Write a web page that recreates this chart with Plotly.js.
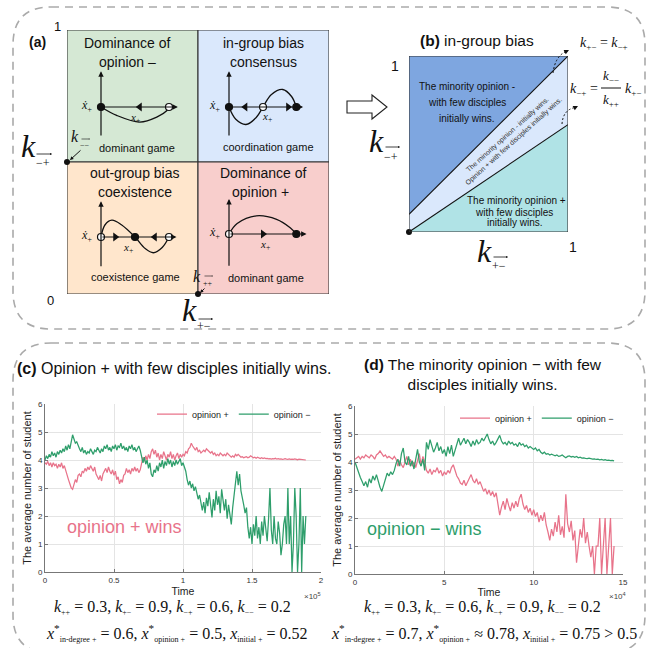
<!DOCTYPE html>
<html><head><meta charset="utf-8">
<script src="https://cdn.plot.ly/plotly-3.0.1.min.js"></script>
<style>html,body{margin:0;padding:0;background:#fff}#chart{width:662px;height:648px}</style>
</head><body><div id="chart"></div>
<script>
// ================= DATA =================
// Panel (c): average number of students, sampled every 1000 time steps (0 .. 1.89e5)
const cStep = 1000;
const cPlus = [
3.9,3.85,3.95,3.8,3.9,3.75,3.9,3.8,3.85,3.7,
3.85,3.75,3.9,3.7,3.8,3.6,3.5,3.3,3.15,3.0,
2.95,3.15,3.3,3.2,3.45,3.5,3.4,3.6,3.55,3.7,
3.6,3.75,3.65,3.8,3.7,3.6,3.75,3.5,3.4,3.3,
3.45,3.25,3.5,3.6,3.7,3.55,3.75,3.6,3.5,3.65,
3.45,3.6,3.3,3.4,3.15,3.3,3.2,3.45,3.5,3.7,
3.55,3.65,3.5,3.7,3.6,3.75,3.6,3.7,3.55,3.65,
3.9,4.1,3.95,4.15,4.0,4.2,4.05,4.3,4.4,4.2,
4.35,4.1,4.25,4.0,4.2,4.05,4.3,4.15,4.0,4.2,
4.1,4.3,4.05,4.2,4.0,4.15,4.25,4.05,4.2,4.1,
4.2,4.15,4.3,4.25,4.4,4.45,4.6,4.5,4.4,4.35,
4.45,4.3,4.35,4.25,4.3,4.35,4.3,4.4,4.35,4.3,
4.25,4.3,4.2,4.25,4.15,4.2,4.15,4.25,4.2,4.15,
4.2,4.15,4.25,4.2,4.15,4.1,4.15,4.1,4.2,4.15,
4.2,4.15,4.1,4.12,4.08,4.1,4.12,4.08,4.1,4.15,
4.1,4.08,4.1,4.06,4.1,4.08,4.05,4.08,4.05,4.07,
4.05,4.06,4.04,4.05,4.03,4.05,4.04,4.06,4.03,4.05,
4.03,4.04,4.02,4.03,4.05,4.03,4.02,4.04,4.02,4.03,
4.02,4.04,4.02,4.01,4.03,4.02,4.01,4.02,4.01,4.0];
const cMinus = [
4.0,4.15,4.05,4.2,4.1,4.3,4.15,4.25,4.1,4.3,
4.2,4.35,4.25,4.4,4.3,4.5,4.35,4.55,4.4,4.7,
4.9,4.75,4.6,4.65,4.5,4.4,4.3,4.45,4.25,4.35,
4.2,4.3,4.25,4.4,4.3,4.2,4.35,4.3,4.45,4.35,
4.25,4.4,4.3,4.5,4.4,4.55,4.35,4.45,4.3,4.5,
4.4,4.55,4.35,4.5,4.45,4.6,4.4,4.5,4.35,4.45,
4.3,4.5,4.4,4.55,4.35,4.45,4.3,4.4,4.5,4.35,
4.05,3.9,4.1,3.85,4.0,3.7,3.9,3.5,3.4,3.65,
3.55,3.8,3.6,3.9,3.75,4.0,3.7,3.95,3.8,4.05,
3.85,4.0,3.75,3.95,3.8,4.0,3.85,3.95,4.05,3.8,
3.9,3.75,3.6,3.3,3.1,3.25,3.0,3.15,2.9,3.05,
2.8,2.6,2.75,2.45,2.2,2.5,2.1,2.65,2.35,2.85,
2.3,1.95,2.6,2.2,2.9,2.4,2.7,2.1,2.95,2.5,
2.2,2.6,1.9,2.4,2.0,1.7,2.3,2.8,3.2,3.6,
3.1,3.5,2.9,2.7,2.4,2.1,2.3,1.6,1.2,1.6,
1.0,1.7,1.3,2.0,1.2,1.6,1.0,1.8,1.3,2.0,
1.4,1.1,1.9,3.0,1.5,1.0,2.0,1.2,1.0,1.8,
1.4,0.6,1.0,1.7,2.0,1.0,3.0,1.0,2.0,0,
1.0,3.0,2.0,0,1.0,3.0,0,2.0,1.0,2.0];
// Panel (d): sampled every 1000 time steps (0 .. 1.45e5)
const dStep = 1000;
const dPlus = [
4.1,4.15,4.2,4.1,4.2,4.15,4.25,4.2,4.15,4.25,
4.2,4.1,4.25,4.3,4.4,4.3,4.2,4.25,4.15,4.2,
4.15,4.1,4.2,4.1,3.85,4.05,3.9,3.8,4.0,4.2,
3.9,4.1,3.85,4.0,3.8,4.05,4.3,3.9,4.2,4.0,
3.7,3.6,3.75,3.55,3.7,3.65,3.8,3.6,3.7,3.5,
3.65,3.55,3.7,3.6,3.8,3.9,3.7,3.5,3.4,3.25,
3.2,3.35,3.15,3.3,3.4,3.55,3.35,3.25,3.4,3.2,
3.3,3.15,2.95,3.05,2.85,3.0,2.8,2.95,2.75,2.9,
2.5,2.1,2.4,2.6,2.3,2.7,2.45,2.25,2.55,2.35,
2.6,2.4,2.7,2.85,2.5,2.3,2.45,2.2,2.35,2.1,
2.3,2.05,2.2,1.85,2.1,1.9,2.2,1.75,1.5,1.2,
1.6,1.35,1.85,1.5,2.1,1.4,1.7,1.3,2.85,1.8,
1.5,1.9,1.2,1.55,0.4,1.0,1.6,1.3,2.0,1.1,
1.5,1.0,0.6,1.0,0,1.0,1.0,2.0,0,1.0,
2.0,0,1.0,2.0,0,1.0];
const dMinus = [
4.0,3.8,3.6,3.45,3.3,3.15,3.3,3.1,3.4,3.25,
3.5,3.35,3.55,3.3,3.1,2.95,3.2,3.4,3.6,3.5,
3.65,3.55,3.7,3.95,4.1,3.85,4.3,4.5,4.0,3.9,
4.2,3.85,4.05,3.75,4.15,4.45,4.0,3.85,4.1,3.7,
4.7,4.45,4.8,4.6,4.35,4.5,4.7,4.4,4.55,4.3,
4.45,4.2,4.55,4.3,4.6,4.2,4.45,4.7,4.85,4.6,
4.75,4.85,4.65,4.8,4.7,4.55,4.75,4.6,4.8,4.65,
4.7,4.85,4.75,4.9,5.0,4.8,4.65,4.75,4.6,4.7,
4.85,4.95,4.75,4.65,4.7,4.6,4.75,4.65,4.7,4.6,
4.65,4.55,4.7,4.6,4.65,4.55,4.6,4.5,4.55,4.5,
4.45,4.5,4.4,4.45,4.35,4.3,4.35,4.28,4.3,4.25,
4.28,4.25,4.22,4.25,4.2,4.22,4.25,4.2,4.15,4.2,
4.22,4.18,4.2,4.17,4.2,4.15,4.17,4.14,4.15,4.13,
4.12,4.14,4.12,4.1,4.11,4.09,4.1,4.08,4.09,4.07,
4.08,4.06,4.07,4.05,4.06,4.04];
const cTickVals = [0,50000,100000,150000,200000], cTickText = ['0','0.5','1','1.5','2'];
const dTickVals = [0,50000,100000,150000], dTickText = ['0','5','10','15'];
const yTicks = [0,1,2,3,4,5,6];
const seriesNames = ['opinion +','opinion −'];

// Panel (a): threshold points (k_{--} on left edge, k_{++} on bottom edge)
const aDotX = [0, 0.5], aDotY = [0.5, 0];
// Panel (b): boundary lines k_{-+} vs k_{+-}
const bLineX = [0, 1];
const bUpperY = [0.10, 1.0];   // k+- = k-+
const bLowerY = [0.0, 0.61];   // k-+ = (k--/k++) k+-

// Phase-line sketches (x+ vs dx+/dt), local units
const tlX = [0,0.23,0.57,0.82,0.97,1.0],             tlY = [0,-0.24,-0.43,-0.29,-0.1,0];
const trX = [0,0.1,0.25,0.4,0.5,0.62,0.79,0.92,0.99], trY = [0,-0.35,-0.5,-0.3,0,0.35,0.5,0.3,0];
const blX = [0,0.06,0.16,0.3,0.5,0.65,0.77,0.9,1.0],  blY = [0,0.35,0.48,0.35,0,-0.33,-0.45,-0.3,0];
const brX = [0,0.12,0.4,0.7,0.9,0.99],                 brY = [0,0.3,0.52,0.42,0.18,0];
const tlFix = [0,1],      tlStable = [1,0];
const trFix = [0,0.5,0.99], trStable = [1,0,1];
const blFix = [0,0.5,1],  blStable = [0,1,0];
const brFix = [0,0.99],   brStable = [0,1];
const tlFlow = [0.57], tlFlowDir = ['triangle-left'];
const trFlow = [0.24,0.87], trFlowDir = ['triangle-left','triangle-right'];
const blFlow = [0.21,0.79], blFlowDir = ['triangle-right','triangle-left'];
const brFlow = [0.5], brFlowDir = ['triangle-right'];

// ================= LAYOUT HELPERS =================
const W=662,H=648;
const px=x=>x/W, py=y=>1-y/H;
const SANS='Liberation Sans, Arial, sans-serif';
const SERIF='Liberation Serif, Times New Roman, DejaVu Serif, serif';
const PINK='#E8738A', GREEN='#2E9E6B';

function A(text,x,y,size,o={}){
  return {text, xref:'paper', yref:'paper', x:px(x), y:py(y), showarrow:false,
    xanchor:o.xa||'center', yanchor:o.ya||'middle', textangle:o.angle||0, align:o.align||'center',
    font:{size, family:o.family||SANS, color:o.color||'#111'}};
}
function Arr(x1,y1,x2,y2,o={}){
  return {text:'', xref:'paper', yref:'paper', x:px(x2), y:py(y2), ax:x1-x2, ay:y1-y2,
    showarrow:true, arrowhead:o.head===undefined?2:o.head, arrowsize:o.size||0.8, arrowwidth:o.w||1, arrowcolor:o.color||'#111', standoff:0};
}
function pathPx(cmds){
  return cmds.map(c=>{const L=c[0]; let s=L; for(let i=1;i<c.length;i+=2){s+=(i>1?' ':'')+px(c[i]).toFixed(5)+','+py(c[i+1]).toFixed(5);} return s;}).join(' ');
}
function roundRect(x0,y0,x1,y1,r){
  return pathPx([['M',x0+r,y0],['L',x1-r,y0],['Q',x1,y0,x1,y0+r],['L',x1,y1-r],['Q',x1,y1,x1-r,y1],
    ['L',x0+r,y1],['Q',x0,y1,x0,y1-r],['L',x0,y0+r],['Q',x0,y0,x0+r,y0]])+' Z';
}
const sb=(t,s)=>'<sub><span style="font-size:'+s+'px">'+t+'</span></sub>';

const traces=[];
const annotations=[];
const shapes=[];
const layout={width:W,height:H,margin:{l:0,r:0,t:0,b:0},paper_bgcolor:'#fff',plot_bgcolor:'rgba(0,0,0,0)',
  showlegend:true, font:{family:SANS,color:'#222'}};

function hidden(domain,range,anchor){return {domain,range,anchor,visible:false,fixedrange:true,showgrid:false,zeroline:false};}

// ---- Panel (a) main axes
layout.xaxis = hidden([px(67),px(329)],[0,1],'y');
layout.yaxis = hidden([py(294),py(30)],[0,1],'x');
[[0,0.5,0.5,1,'#D5E8D4'],[0.5,0.5,1,1,'#DAE8FC'],[0,0,0.5,0.5,'#FFE6CC'],[0.5,0,1,0.5,'#F8CECC']].forEach(q=>{
  shapes.push({type:'rect',xref:'x',yref:'y',x0:q[0],y0:q[1],x1:q[2],y1:q[3],fillcolor:q[4],line:{color:'#333',width:1.1},layer:'below'});
});
traces.push({type:'scatter',mode:'markers',x:aDotX,y:aDotY,xaxis:'x',yaxis:'y',showlegend:false,cliponaxis:false,
  marker:{color:'#111',size:6}});

// ---- mini phase diagrams
const UX=68, UY=35;
const minis=[
  {ox:101,oy:107,X:tlX,Y:tlY,F:tlFix,S:tlStable,FL:tlFlow,FD:tlFlowDir,axEnd:1.13,vTop:1.02,vBot:-0.86,xl:[0.5,-0.31]},
  {ox:229,oy:107,X:trX,Y:trY,F:trFix,S:trStable,FL:trFlow,FD:trFlowDir,axEnd:1.09,vTop:1.02,vBot:-0.86,xl:[0.56,-0.29]},
  {ox:101,oy:237,X:blX,Y:blY,F:blFix,S:blStable,FL:blFlow,FD:blFlowDir,axEnd:1.11,vTop:1.02,vBot:-0.88,xl:[0.4,-0.32]},
  {ox:229,oy:234,X:brX,Y:brY,F:brFix,S:brStable,FL:brFlow,FD:brFlowDir,axEnd:1.14,vTop:1.0,vBot:-0.95,xl:[0.53,-0.31]}
];
minis.forEach((m,i)=>{
  const n=i+5, xa='x'+n, ya='y'+n;
  layout['xaxis'+n]=hidden([px(m.ox-30),px(m.ox+90)],[-30/UX,90/UX],ya);
  layout['yaxis'+n]=hidden([py(m.oy+40),py(m.oy-45)],[-40/UY,45/UY],xa);
  annotations.push({text:'',xref:xa,yref:ya,axref:xa,ayref:ya,x:0,y:m.vTop,ax:0,ay:m.vBot,showarrow:true,arrowhead:2,arrowsize:0.9,arrowwidth:1.2,arrowcolor:'#111',standoff:0});
  annotations.push({text:'',xref:xa,yref:ya,axref:xa,ayref:ya,x:m.axEnd,y:0,ax:0,ay:0,showarrow:true,arrowhead:2,arrowsize:0.9,arrowwidth:1.2,arrowcolor:'#111',standoff:0});
  traces.push({type:'scatter',mode:'lines',x:m.X,y:m.Y,xaxis:xa,yaxis:ya,showlegend:false,
    line:{color:'#111',width:1.3,shape:'spline',smoothing:1}});
  traces.push({type:'scatter',mode:'markers',x:m.FL,y:m.FL.map(()=>0),xaxis:xa,yaxis:ya,showlegend:false,
    marker:{symbol:m.FD,size:8,color:'#111'}});
  traces.push({type:'scatter',mode:'markers',x:m.F,y:m.F.map(()=>0),xaxis:xa,yaxis:ya,showlegend:false,cliponaxis:false,
    marker:{size:7,color:m.S.map(s=>s?'#111':'#fff'),line:{color:'#111',width:1.2}}});
  annotations.push({text:'<i>ẋ</i><sub>+</sub>',xref:xa,yref:ya,x:-0.1,y:0.02,xanchor:'right',yanchor:'middle',showarrow:false,font:{size:12,family:SERIF,color:'#111'}});
  annotations.push({text:'<i>x</i><sub>+</sub>',xref:xa,yref:ya,x:m.xl[0],y:m.xl[1],xanchor:'center',yanchor:'middle',showarrow:false,font:{size:11,family:SERIF,color:'#111'}});
});

// ---- Panel (b)
layout.xaxis2 = hidden([px(409),px(568)],[0,1],'y2');
layout.yaxis2 = hidden([py(232),py(56)],[0,1],'x2');
traces.push({type:'scatter',mode:'lines',x:[bLineX[0],bLineX[1],bLineX[0]],y:[bUpperY[0],bUpperY[1],1],fill:'toself',fillcolor:'#7EA6E0',line:{width:0},xaxis:'x2',yaxis:'y2',showlegend:false,hoverinfo:'skip'});
traces.push({type:'scatter',mode:'lines',x:[bLineX[0],bLineX[0],bLineX[1],bLineX[1]],y:[bLowerY[0],bUpperY[0],bUpperY[1],bLowerY[1]],fill:'toself',fillcolor:'#DAE8FC',line:{width:0},xaxis:'x2',yaxis:'y2',showlegend:false,hoverinfo:'skip'});
traces.push({type:'scatter',mode:'lines',x:[bLineX[0],bLineX[1],bLineX[1]],y:[bLowerY[0],bLowerY[1],0],fill:'toself',fillcolor:'#B0E3E6',line:{width:0},xaxis:'x2',yaxis:'y2',showlegend:false,hoverinfo:'skip'});
traces.push({type:'scatter',mode:'lines',x:bLineX,y:bUpperY,xaxis:'x2',yaxis:'y2',showlegend:false,line:{color:'#111',width:1.1}});
traces.push({type:'scatter',mode:'lines',x:bLineX,y:bLowerY,xaxis:'x2',yaxis:'y2',showlegend:false,line:{color:'#111',width:1.1}});
traces.push({type:'scatter',mode:'markers',x:[bLineX[0]],y:[bLowerY[0]],xaxis:'x2',yaxis:'y2',showlegend:false,cliponaxis:false,marker:{color:'#111',size:6}});
shapes.push({type:'rect',xref:'x2',yref:'y2',x0:0,y0:0,x1:1,y1:1,line:{color:'#333',width:1.1},fillcolor:'rgba(0,0,0,0)'});

// ---- Panels (c) and (d)
function tsAxes(n,xd,yd,tv,tt){
  const common={showgrid:true,gridcolor:'#e4e4e4',gridwidth:1,zeroline:false,showline:true,linecolor:'#777',linewidth:1,
    ticks:'inside',ticklen:3,tickcolor:'#777',tickfont:{size:8,color:'#333',family:SANS},fixedrange:true};
  layout['xaxis'+n]=Object.assign({},common,{domain:xd,anchor:'y'+n,range:[0,tv[tv.length-1]],tickvals:tv,ticktext:tt,
    title:{text:'Time',font:{size:10.5,color:'#222'},standoff:3}});
  layout['yaxis'+n]=Object.assign({},common,{domain:yd,anchor:'x'+n,range:[0,6],tickvals:yTicks,
    title:{text:'The average number of student',font:{size:11,color:'#222'},standoff:4}});
}
tsAxes(3,[px(45),px(321)],[py(572),py(404)],cTickVals,cTickText);
tsAxes(4,[px(355),px(623)],[py(574),py(406)],dTickVals,dTickText);

traces.push({type:'scatter',mode:'lines',name:seriesNames[0],x:cPlus.map((_,i)=>i*cStep),y:cPlus,xaxis:'x3',yaxis:'y3',legend:'legend',line:{color:PINK,width:1.25}});
traces.push({type:'scatter',mode:'lines',name:seriesNames[1],x:cMinus.map((_,i)=>i*cStep),y:cMinus,xaxis:'x3',yaxis:'y3',legend:'legend',line:{color:GREEN,width:1.25}});
traces.push({type:'scatter',mode:'lines',name:seriesNames[0],x:dPlus.map((_,i)=>i*dStep),y:dPlus,xaxis:'x4',yaxis:'y4',legend:'legend2',line:{color:PINK,width:1.25}});
traces.push({type:'scatter',mode:'lines',name:seriesNames[1],x:dMinus.map((_,i)=>i*dStep),y:dMinus,xaxis:'x4',yaxis:'y4',legend:'legend2',line:{color:GREEN,width:1.25}});

const legCommon={orientation:'h',xanchor:'right',yanchor:'middle',bgcolor:'rgba(0,0,0,0)',borderwidth:0,
  font:{size:9,color:'#222',family:SANS},itemwidth:30,traceorder:'normal',tracegroupgap:0,itemclick:false,itemdoubleclick:false};
layout.legend=Object.assign({},legCommon,{x:px(316),y:py(414)});
layout.legend2=Object.assign({},legCommon,{x:px(619),y:py(418)});

// ================= TEXT =================
// (a)
annotations.push(A('<b>(a)</b>',27,42,14,{xa:'left'}));
annotations.push(A('1',57,27,13));
annotations.push(A('0',50,300,13));
annotations.push(A('Dominance of',127,43,14)); annotations.push(A('opinion –',127,62,14));
annotations.push(A('in-group bias',263,43,14)); annotations.push(A('consensus',263,62,14));
annotations.push(A('out-group bias',135,173,14)); annotations.push(A('coexistence',135,192,14));
annotations.push(A('Dominance of',263,173,14)); annotations.push(A('opinion +',260,192,14));
annotations.push(A('dominant game',137,148,11)); annotations.push(A('coordination game',268,147,11));
annotations.push(A('coexistence game',135,277,11)); annotations.push(A('dominant game',266,278,11));
// k labels in (a)
annotations.push(A('<i>k</i>',28,146,32,{family:SERIF}));
annotations.push(A('−+',43,163,12,{family:SERIF}));
annotations.push(Arr(35,154,52,154,{size:0.5,w:0.8}));
annotations.push(A('<i>k</i>',75,136,16,{family:SERIF}));
annotations.push(A('−−',85,145,8,{family:SERIF}));
annotations.push(Arr(80,139,90,139,{size:0.4,w:0.6}));
annotations.push(Arr(82,149,70,160,{size:0.7,w:1}));
annotations.push(A('<i>k</i>',197,276,16,{family:SERIF}));
annotations.push(A('++',208,283,8,{family:SERIF}));
annotations.push(Arr(203,276,213,276,{size:0.4,w:0.6}));
annotations.push(Arr(206,287,200,293,{size:0.7,w:1}));
annotations.push(A('<i>k</i>',189,310,32,{family:SERIF}));
annotations.push(A('+−',204,326,12,{family:SERIF}));
annotations.push(Arr(197,319,213,319,{size:0.5,w:0.8}));
// (b)
annotations.push(A('<b>(b)</b> in-group bias',418,40,15.5,{xa:'left'}));
annotations.push(A('1',395,66,14)); annotations.push(A('1',573,247,14));
annotations.push(A('<i>k</i>',376,141,32,{family:SERIF}));
annotations.push(A('−+',391,157,12,{family:SERIF}));
annotations.push(Arr(384,147,400,147,{size:0.5,w:0.8}));
annotations.push(A('<i>k</i>',484,251,32,{family:SERIF}));
annotations.push(A('+−',499,266,12,{family:SERIF}));
annotations.push(Arr(492,257,508,257,{size:0.5,w:0.8}));
annotations.push(A('The minority opinion -',467,86,10));
annotations.push(A('with few disciples',467,102,10));
annotations.push(A('initially wins.',467,118,10));
annotations.push(A('The minority opinion +',516,201,10));
annotations.push(A('with few disciples',514,212,10));
annotations.push(A('initially wins.',515,223,10));
annotations.push(A('The minority opinion - initially wins.<br>Opinion + with few disciples initially wins.',510,138,7,{angle:-42,color:'#333'}));
annotations.push(A('<i>k</i>'+sb('+−',9)+' = <i>k</i>'+sb('−+',9),604,44,14,{family:SERIF}));
annotations.push(A('<i>k</i>'+sb('−+',9)+' =',584,90,14,{family:SERIF}));
annotations.push(A('<i>k</i>'+sb('−−',9),611,77,13,{family:SERIF}));
annotations.push(A('<i>k</i>'+sb('++',9),611,100,13,{family:SERIF}));
annotations.push(A('<i>k</i>'+sb('+−',9),633,90,14,{family:SERIF}));
shapes.push({type:'line',xref:'paper',yref:'paper',x0:px(601),x1:px(621),y0:py(88),y1:py(88),line:{color:'#111',width:1}});
shapes.push({type:'path',xref:'paper',yref:'paper',path:pathPx([['M',553,73],['Q',555,57,565,52]]),line:{color:'#111',width:1,dash:'2px,2px'}});
annotations.push(Arr(563,53,569,50,{size:0.8,w:1.2}));
shapes.push({type:'path',xref:'paper',yref:'paper',path:pathPx([['M',562,124],['Q',563,111,573,108]]),line:{color:'#111',width:1,dash:'2px,2px'}});
annotations.push(Arr(572,109,578,106,{size:0.8,w:1.2}));
// hollow arrow
shapes.push({type:'path',xref:'paper',yref:'paper',path:pathPx([['M',347,101],['L',372,101],['L',372,95],['L',387,107],['L',372,119],['L',372,113],['L',347,113]])+' Z',
  line:{color:'#222',width:1.1},fillcolor:'#fff'});
// dashed frames
shapes.push({type:'path',xref:'paper',yref:'paper',path:roundRect(13,7,645,329,38),line:{color:'#aaa',width:1.6,dash:'8px,6px'}});
shapes.push({type:'path',xref:'paper',yref:'paper',path:roundRect(13,343,645,653,38),line:{color:'#aaa',width:1.6,dash:'8px,6px'}});

// (c) & (d)
annotations.push(A('<b>(c)</b> Opinion + with few disciples initially wins.',15,368,16,{xa:'left'}));
annotations.push(A('<b>(d)</b> The minority opinion − with few<br>disciples initially wins.',483,374,15.5));
annotations.push(A('opinion + wins',124,527,18,{color:PINK}));
annotations.push(A('opinion − wins',424,529,18,{color:GREEN}));
annotations.push(A('×10<sup>5</sup>',312,596,8,{color:'#444'}));
annotations.push(A('×10<sup>4</sup>',617,596,8,{color:'#444'}));
const K=s=>'<i>k</i>'+sb(s,8);
const X=(s,star)=>'<i>x</i>'+(star?'<sup>*</sup>':'')+sb(s,8);
annotations.push(A(K('++')+' = 0.3, '+K('+−')+' = 0.9, '+K('−+')+' = 0.6, '+K('−−')+' = 0.2',172,607,16,{family:SERIF}));
annotations.push(A(X('in-degree +',1)+' = 0.6, '+X('opinion +',1)+' = 0.5, '+X('initial +',0)+' = 0.52',176,633,16,{family:SERIF}));
annotations.push(A(K('++')+' = 0.3, '+K('+−')+' = 0.6, '+K('−+')+' = 0.9, '+K('−−')+' = 0.2',482,607,16,{family:SERIF}));
annotations.push(A(X('in-degree +',1)+' = 0.7, '+X('opinion +',1)+' ≈ 0.78, '+X('initial +',0)+' = 0.75 > 0.5',484,633,16,{family:SERIF}));

layout.annotations=annotations;
layout.shapes=shapes;
Plotly.newPlot('chart',traces,layout,{displayModeBar:false,staticPlot:true});
</script>
</body></html>
